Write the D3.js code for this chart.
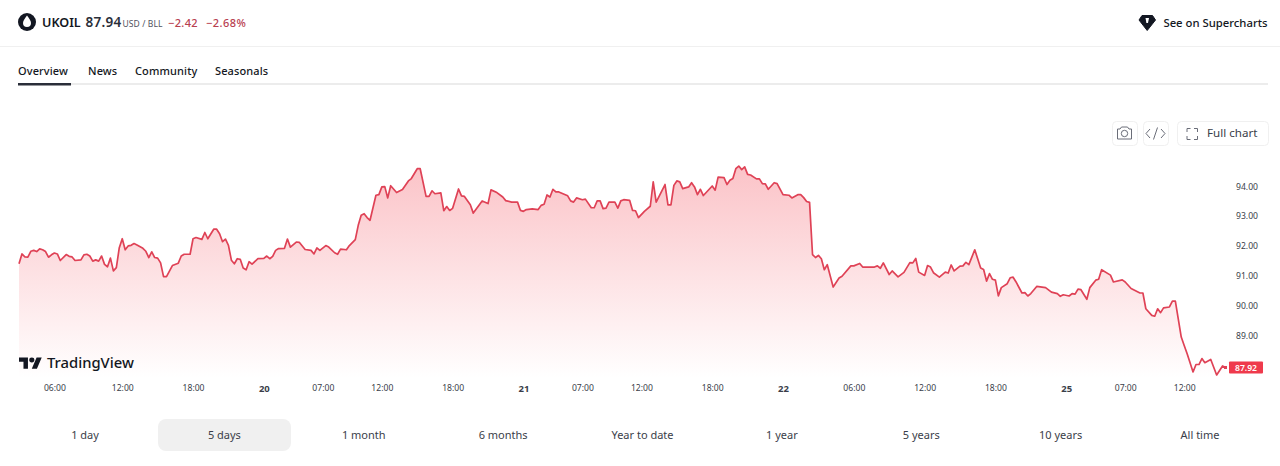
<!DOCTYPE html>
<html><head><meta charset="utf-8">
<script src="https://cdn.jsdelivr.net/npm/d3@7/dist/d3.min.js"></script>
<style>html,body{margin:0;padding:0;background:#fff;overflow:hidden}svg{display:block}text{font-family:"Noto Sans",sans-serif}</style>
</head><body><svg id="c" width="1280" height="466"></svg>
<script>
const bars=[0,1,2,3,4,5,6,7,8,9,10,11,12,13,14,16,17,18,19,21,22,23,24,25,26,27,28,29,30,31,32,33,34,35,36,37,38,39,40,42,43,44,45,46,47,48,49,50,52,54,55,56,58,59,60,62,63,64,66,67,68,69,70,71,72,73,74,75,76,77,78,79,81,83,84,85,86,87,88,90,91,92,94,95,97,99,100,101,
102,104,105,107,108,109,111,112,114,115,116,117,118,119,121,122,123,124,125,126,128,130,132,133,135,136,138,139,140,141,143,144,145,146,147,149,150,151,153,154,157,159,160,162,164,165,167,169,170,171,172,174,176,177,178,179,180,181,182,183,186,187,188,189,191,192,194,195,196,197,198,199,200,202,203,204,205,207,208,209,210,
212,214,215,216,219,220,221,222,223,224,225,227,228,229,230,231,232,235,236,237,239,240,241,242,243,244,245,246,247,248,250,251,252,253,254,256,257,259,261,262,264,265,266,267,268,269,270,271,272,273,274,276,278,279,282,283,285,286,288,290,291,292,293,295,296,298,300,302,303,304,305,307,308,309,310,312,314,315,316,317,
319,320,321,322,324,326,327,328,329,330,331,332,333,335,336,337,338,340,341,342,343,345,348,350,352,353,354,356,357,358,359,360,362,363,365,366,367,370,371,374,375,377,380,381,382,384,385,386,387,388,390,391,392,394,395,396,398,399,400,401,402,404,406,408,409];
const prices=[91.40,91.73,91.63,91.62,91.82,91.85,91.81,91.90,91.87,91.81,91.62,91.70,91.76,91.73,91.51,91.71,91.65,91.63,91.51,91.53,91.70,91.72,91.66,91.49,91.53,91.49,91.66,91.38,91.30,91.59,91.16,91.27,91.94,92.24,91.87,92.00,92.02,92.08,92.03,91.92,91.82,91.61,91.80,91.61,91.59,91.43,90.97,90.97,91.34,91.42,91.66,91.72,91.72,92.24,92.28,92.22,92.45,92.24,92.56,92.56,92.41,92.14,92.23,92.02,91.52,91.40,91.57,91.55,91.26,91.20,91.47,91.39,91.57,91.58,91.66,91.57,91.65,91.85,91.91,91.92,92.23,91.96,92.13,92.12,91.88,91.85,91.73,91.93,
91.85,92.01,91.96,91.77,91.72,91.89,91.87,92.01,92.21,92.69,93.03,93.08,92.95,92.86,93.70,93.72,93.98,93.99,93.61,94.02,93.79,93.89,94.18,94.26,94.59,94.59,93.66,93.66,93.85,93.75,93.78,93.18,93.32,93.19,93.26,93.91,93.68,93.66,93.38,93.10,93.51,93.42,93.88,93.79,93.64,93.52,93.47,93.47,93.19,93.16,93.22,93.24,93.22,93.36,93.40,93.71,93.64,93.90,93.81,93.81,93.68,93.51,93.47,93.61,93.55,93.57,93.28,93.28,93.51,93.51,93.25,93.27,93.47,93.47,93.27,93.51,93.55,93.53,93.19,93.18,92.95,
93.16,93.33,94.15,93.47,94.06,93.38,93.38,94.03,94.18,94.15,93.92,93.98,94.12,93.98,93.72,93.90,93.69,94.01,93.87,94.31,94.29,94.06,94.20,94.26,94.59,94.68,94.56,94.65,94.40,94.38,94.25,94.25,94.09,94.08,93.90,94.12,94.09,93.72,93.70,93.61,93.72,93.72,93.62,93.49,93.46,91.71,91.61,91.68,91.57,91.20,91.37,90.62,90.92,90.98,91.33,91.33,91.41,91.29,91.29,91.29,91.33,91.25,91.43,91.04,91.16,90.96,91.11,91.44,91.43,91.58,91.12,91.01,91.34,91.29,91.10,90.95,91.12,91.09,91.36,91.16,
91.32,91.33,91.45,91.37,91.87,91.26,91.21,90.82,91.07,90.88,90.85,90.32,90.60,90.73,90.93,90.95,90.79,90.42,90.43,90.32,90.40,90.64,90.60,90.45,90.40,90.31,90.36,90.32,90.40,90.38,90.55,90.53,90.21,90.60,90.85,90.88,91.20,91.02,90.79,90.86,90.79,90.57,90.42,90.42,89.89,89.67,89.64,89.89,89.76,89.92,89.95,90.15,90.15,88.94,88.66,88.38,87.77,88.02,88.02,88.22,88.08,88.19,87.67,87.97,87.92];
const xTickBars=[12,35,59,83,103,123,147,171,191,211,235,259,283,307,331,355,375,395];
const xTickLabels=["06:00","12:00","18:00","20","07:00","12:00","18:00","21","07:00","12:00","18:00","22","06:00","12:00","18:00","25","07:00","12:00"];
const boldTicks=["20","21","22","25"];
const yTicks=[89,90,91,92,93,94];
const lastPrice=87.92;
const tabs=["Overview","News","Community","Seasonals"];
const ranges=["1 day","5 days","1 month","6 months","Year to date","1 year","5 years","10 years","All time"];

const svg=d3.select("#c");
const x=d3.scaleLinear().domain([0,409]).range([19,1225.5]);
const y=d3.scaleLinear().domain([89,94]).range([335.3,186.3]);
const pts=bars.map((b,i)=>[b,prices[i]]);
const RED="#df4256";

const defs=svg.append("defs");
const g=defs.append("linearGradient").attr("id","fill").attr("gradientUnits","userSpaceOnUse")
 .attr("x1",0).attr("x2",0).attr("y1",165).attr("y2",378);
g.append("stop").attr("offset",0).attr("stop-color","#f23645").attr("stop-opacity",.3);
g.append("stop").attr("offset",1).attr("stop-color","#f23645").attr("stop-opacity",0);

// header
svg.append("rect").attr("x",0).attr("y",46).attr("width",1280).attr("height",1).attr("fill","#f0f0f0");
svg.append("circle").attr("cx",27).attr("cy",22).attr("r",9).attr("fill","#131722");
svg.append("path").attr("d","M27 15.5C29 18.5 31 20.5 31 23A4 4 0 0 1 23 23C23 20.5 25 18.5 27 15.5Z").attr("fill","#fff");
const head=(t,xx,yy,fs,fw,c,a,ls)=>svg.append("text").attr("x",xx).attr("y",yy).attr("font-size",fs).attr("font-weight",fw).attr("fill",c).attr("text-anchor",a||"start").attr("letter-spacing",ls||0).text(t);
head("UKOIL",42,27,12.6,600,"#131722");
head("87.94",85.5,27,13.5,600,"#2a2e39","start",.25);
head("USD / BLL",122.5,27,8.5,400,"#50535e","start",.1);
head("−2.42",168,26.5,11,500,"#b8404f","start",.35);
head("−2.68%",206,26.5,11,500,"#b8404f","start",.45);
svg.append("path").attr("d","M1142 15.5H1152.5L1155.5 20L1147.2 30.5L1139 20Z").attr("fill","#131722").attr("stroke","#131722").attr("stroke-linejoin","round");
svg.append("path").attr("d","M1145.5 18H1149L1148 23H1146.4Z").attr("fill","#fff");
head("See on Supercharts",1267.5,26.5,11.3,500,"#131722","end");

// tabs
const tabX=[18,88,135,215];
tabs.forEach((t,i)=>head(t,tabX[i],75,11,500,i?"#131722":"#131722","start",.12));
svg.append("rect").attr("x",18).attr("y",83).attr("width",1250).attr("height",2).attr("fill","#ececec");
svg.append("rect").attr("x",18).attr("y",83).attr("width",53).attr("height",2.5).attr("fill","#2a2e39");

// chart buttons
[[1112,25],[1143,25],[1177,91]].forEach(b=>svg.append("rect").attr("x",b[0]+.5).attr("y",121.5).attr("width",b[1]).attr("height",24).attr("rx",4).attr("fill","#fff").attr("stroke","#f0f0f0"));
svg.append("path").attr("d","M1117.5 129H1120L1121.5 127H1127.5L1129 129H1131.5V139H1117.5Z").attr("fill","none").attr("stroke","#6a6d78");
svg.append("circle").attr("cx",1124.5).attr("cy",133.5).attr("r",3.2).attr("fill","none").attr("stroke","#6a6d78");
svg.append("path").attr("d","M1150 129L1146 133.5L1150 138M1161 129L1165 133.5L1161 138M1157.5 127.5L1153.5 139.5").attr("fill","none").attr("stroke","#6a6d78");
svg.append("path").attr("d","M1187 132V128.5H1190.5M1194 128.5H1197.5V132M1197.5 136V139.5H1194M1190.5 139.5H1187V136").attr("fill","none").attr("stroke","#6a6d78");
head("Full chart",1207,137,11.6,400,"#3a3e49");

// area + line
const line=d3.line().x(d=>x(d[0])).y(d=>y(d[1]));
const area=d3.area().x(d=>x(d[0])).y0(378).y1(d=>y(d[1]));
svg.append("path").datum(pts).attr("d",area).attr("fill","url(#fill)");
svg.append("path").datum(pts).attr("d",line).attr("fill","none").attr("stroke",RED).attr("stroke-width",1.7).attr("stroke-linejoin","round");
svg.append("rect").attr("x",x(409)-1.5).attr("y",y(lastPrice)-1.5).attr("width",3).attr("height",3).attr("fill",RED);

// logo
const logo=svg.append("g").attr("transform","translate(19,355) scale(.64,.62)");
logo.append("path").attr("d","M14 22H7V11H0V4h14v18zM28 22h-8l7.5-18h8L28 22z").attr("fill","#131722");
logo.append("circle").attr("cx",20).attr("cy",8).attr("r",4).attr("fill","#131722");
head("TradingView",47,368,14.8,500,"#131722");

// axes
const yAxis=d3.axisRight(y).tickValues(yTicks).tickFormat(d3.format(".2f")).tickSize(0).tickPadding(0);
const ya=svg.append("g").attr("transform","translate(1236,0)").call(yAxis);
ya.select(".domain").remove();
ya.selectAll("text").attr("font-size",8.6).attr("fill","#3a3e49");
const xAxis=d3.axisBottom(x).tickValues(xTickBars).tickSize(0).tickPadding(0)
 .tickFormat(d=>xTickLabels[xTickBars.indexOf(d)]);
const xa=svg.append("g").attr("transform","translate(0,385)").call(xAxis);
xa.select(".domain").remove();
xa.selectAll("text").attr("font-size",d=>boldTicks.includes(xTickLabels[xTickBars.indexOf(d)])?9.5:8.6).attr("fill","#3a3e49").attr("font-weight",d=>boldTicks.includes(xTickLabels[xTickBars.indexOf(d)])?700:400);

// price tag
svg.append("rect").attr("x",1229).attr("y",361.5).attr("width",34).attr("height",12).attr("rx",1).attr("fill","#ef3a4c");
head(lastPrice.toFixed(2),1246,370.5,8.6,600,"#fff","middle");

// range buttons
const rangeX=d3.scalePoint().domain(ranges).range([85,1200]);
svg.append("rect").attr("x",158).attr("y",419).attr("width",133).attr("height",32).attr("rx",8).attr("fill","#f0f0f0");
ranges.forEach(r=>head(r,rangeX(r),439,11,400,"#3a3e49","middle"));
</script></body></html>
